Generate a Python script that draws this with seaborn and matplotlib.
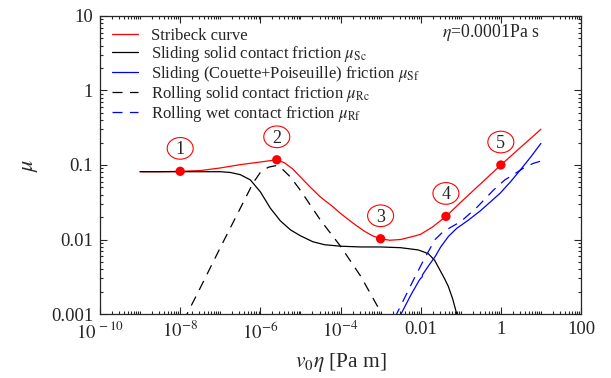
import numpy as np
import pandas as pd
import matplotlib.pyplot as plt
import matplotlib.ticker as mticker
from matplotlib.path import Path
import seaborn as sns

# curve data, given as log10 exponents
stribeck_logx = [-9.0, -8.5, -8.0, -7.5, -7.0, -6.5, -6.0, -5.8, -5.59, -5.4, -5.2, -5.0, -4.75,
                 -4.5, -4.19, -4.0, -3.69, -3.4, -3.2, -3.0, -2.77, -2.5, -2.2, -2.0, -1.7,
                 -1.37, -1.0, -0.5, 0.0, 0.5, 1.0]
stribeck_logy = [-1.09, -1.09, -1.085, -1.075, -1.04, -0.995, -0.96, -0.945, -0.93, -0.97, -1.05,
                 -1.16, -1.30, -1.43, -1.56, -1.65, -1.78, -1.89, -1.95, -1.99, -2.01, -2.0,
                 -1.96, -1.93, -1.83, -1.69, -1.50, -1.25, -1.0, -0.76, -0.52]

sc_logx = [-9.0, -8.0, -7.0, -6.75, -6.5, -6.25, -6.0, -5.75, -5.5, -5.25, -5.0, -4.69, -4.4,
           -4.0, -3.5, -3.0, -2.5, -2.06, -1.81, -1.65, -1.52, -1.4, -1.31, -1.2, -1.10, -1.08]
sc_logy = [-1.09, -1.09, -1.09, -1.10, -1.13, -1.20, -1.36, -1.58, -1.75, -1.87, -1.95, -2.03,
           -2.07, -2.09, -2.10, -2.10, -2.11, -2.14, -2.19, -2.28, -2.41, -2.53, -2.63, -2.8,
           -3.0, -3.1]

sf_logx = [-2.52, -2.49, -2.25, -2.05, -2.0, -1.97, -1.95, -1.8, -1.64, -1.5, -1.31, -1.1,
           -0.81, -0.5, -0.02, 0.25, 0.48, 0.75, 1.0]
sf_logy = [-3.05, -3.0, -2.75, -2.56, -2.52, -2.51, -2.47, -2.35, -2.23, -2.10, -1.96, -1.85,
           -1.74, -1.61, -1.38, -1.22, -1.07, -0.89, -0.71]

rc_logx = [-7.9, -7.83, -7.5, -7.0, -6.5, -6.18, -6.0, -5.8, -5.63, -5.5, -5.25, -5.0, -4.5,
           -4.0, -3.5, -3.0, -2.95]
rc_logy = [-3.1, -3.0, -2.65, -2.11, -1.58, -1.24, -1.10, -1.03, -1.01, -1.03, -1.16, -1.34,
           -1.74, -2.09, -2.49, -2.97, -3.05]

rf_logx = [-2.63, -2.6, -2.37, -2.14, -1.9, -1.64, -1.45, -1.23, -1.0, -0.6, -0.19, 0.1, 0.31,
           0.6, 0.8, 0.98]
rf_logy = [-3.05, -3.0, -2.75, -2.5, -2.25, -2.0, -1.9, -1.83, -1.76, -1.57, -1.34, -1.2,
           -1.13, -1.03, -0.98, -0.95]

point_logx = [-8.0, -5.59, -3.0, -1.37, 0.0]
point_logy = [-1.085, -0.93, -1.99, -1.69, -1.0]
point_labels = ["1", "2", "3", "4", "5"]

x_ticks = [1e-10, 1e-8, 1e-6, 1e-4, 1e-2, 1, 100]
x_tick_labels = [r"$10^{\,-10}$", r"$10^{-8}$", r"$10^{-6}$", r"$10^{-4}$", "0.01", "1", "100"]
y_ticks = [0.001, 0.01, 0.1, 1, 10]
y_tick_labels = ["0.001", "0.01", "0.1", "1", "10"]

sns.set_style("ticks")
plt.rcParams["font.family"] = ["Liberation Serif", "DejaVu Serif"]
plt.rcParams["mathtext.fontset"] = "stix"


def curve(lx, ly):
    return pd.DataFrame({"x": 10 ** np.array(lx), "y": 10 ** np.array(ly)})


def ellipse_box(x0, y0, width, height, mutation_size):
    # ellipse around the digit, nudged up since the text box includes the descent
    cx, cy = x0 + width / 2, y0 + height / 2 + 0.08 * mutation_size
    rx, ry = 0.72 * mutation_size, 0.60 * mutation_size
    circ = Path.unit_circle()
    return Path(circ.vertices * [rx, ry] + [cx, cy], circ.codes)


fig, ax = plt.subplots(figsize=(6.11, 3.78), dpi=100)
fig.subplots_adjust(left=0.1637, right=0.9509, top=0.9577, bottom=0.1693)

lw = 0.9
dash = (0, (8, 6))
sns.lineplot(data=curve(stribeck_logx, stribeck_logy), x="x", y="y", sort=False, estimator=None,
             color="#ff0000", lw=lw, label="Stribeck curve", ax=ax)
sns.lineplot(data=curve(sc_logx, sc_logy), x="x", y="y", sort=False, estimator=None,
             color="black", lw=lw, label=r"Sliding solid contact friction $\mu_{\rm Sc}$", ax=ax)
sns.lineplot(data=curve(sf_logx, sf_logy), x="x", y="y", sort=False, estimator=None,
             color="#0000ff", lw=lw, label=r"Sliding (Couette+Poiseuille) friction $\mu_{\rm Sf}$", ax=ax)
sns.lineplot(data=curve(rc_logx, rc_logy), x="x", y="y", sort=False, estimator=None,
             color="black", lw=lw, linestyle=dash,
             label=r"Rolling solid contact friction $\mu_{\rm Rc}$", ax=ax)
sns.lineplot(data=curve(rf_logx, rf_logy), x="x", y="y", sort=False, estimator=None,
             color="#0000ff", lw=lw, linestyle=dash,
             label=r"Rolling wet contact friction $\mu_{\rm Rf}$", ax=ax)

pts = curve(point_logx, point_logy)
sns.scatterplot(data=pts, x="x", y="y", color="#ff0000", s=45, edgecolor="none", zorder=5,
                legend=False, ax=ax)
for lab, px, py in zip(point_labels, pts["x"], pts["y"]):
    ax.annotate(lab, xy=(px, py), xytext=(0, 15.5), textcoords="offset points",
                ha="center", va="center", fontsize=13,
                bbox=dict(boxstyle=ellipse_box, fc="none", ec="#ff0000", lw=0.8))

ax.set_xscale("log")
ax.set_yscale("log")
ax.set_xlim(1e-10, 100)
ax.set_ylim(1e-3, 10)

ax.xaxis.set_major_locator(mticker.FixedLocator(x_ticks))
ax.xaxis.set_major_formatter(mticker.FixedFormatter(x_tick_labels))
ax.xaxis.set_minor_locator(mticker.LogLocator(base=10, subs=np.arange(1, 10), numticks=100))
ax.xaxis.set_minor_formatter(mticker.NullFormatter())
ax.yaxis.set_major_locator(mticker.FixedLocator(y_ticks))
ax.yaxis.set_major_formatter(mticker.FixedFormatter(y_tick_labels))
ax.yaxis.set_minor_locator(mticker.LogLocator(base=10, subs=np.arange(2, 10), numticks=100))
ax.yaxis.set_minor_formatter(mticker.NullFormatter())

ax.tick_params(which="both", direction="in", top=True, right=True, labelsize=13.5, width=0.8)
ax.tick_params(which="major", length=5, pad=5)
ax.tick_params(which="minor", length=2.5)
for sp in ax.spines.values():
    sp.set_linewidth(0.9)

ax.set_xlabel(r"$v_0\eta$ [Pa m]", fontsize=15.5, labelpad=6)
ax.set_ylabel(r"$\mu$", fontsize=16, labelpad=8)

ax.text(0.915, 0.945, r"$\eta$=0.0001Pa s", transform=ax.transAxes, ha="right", va="center",
        fontsize=12.8)

ax.legend(loc="upper left", bbox_to_anchor=(0.0, 1.0), frameon=False, fontsize=12,
          handlelength=1.6, handletextpad=0.78, labelspacing=0.0, borderaxespad=0.5,
          borderpad=0.2)

plt.savefig("out.png", dpi=100)
